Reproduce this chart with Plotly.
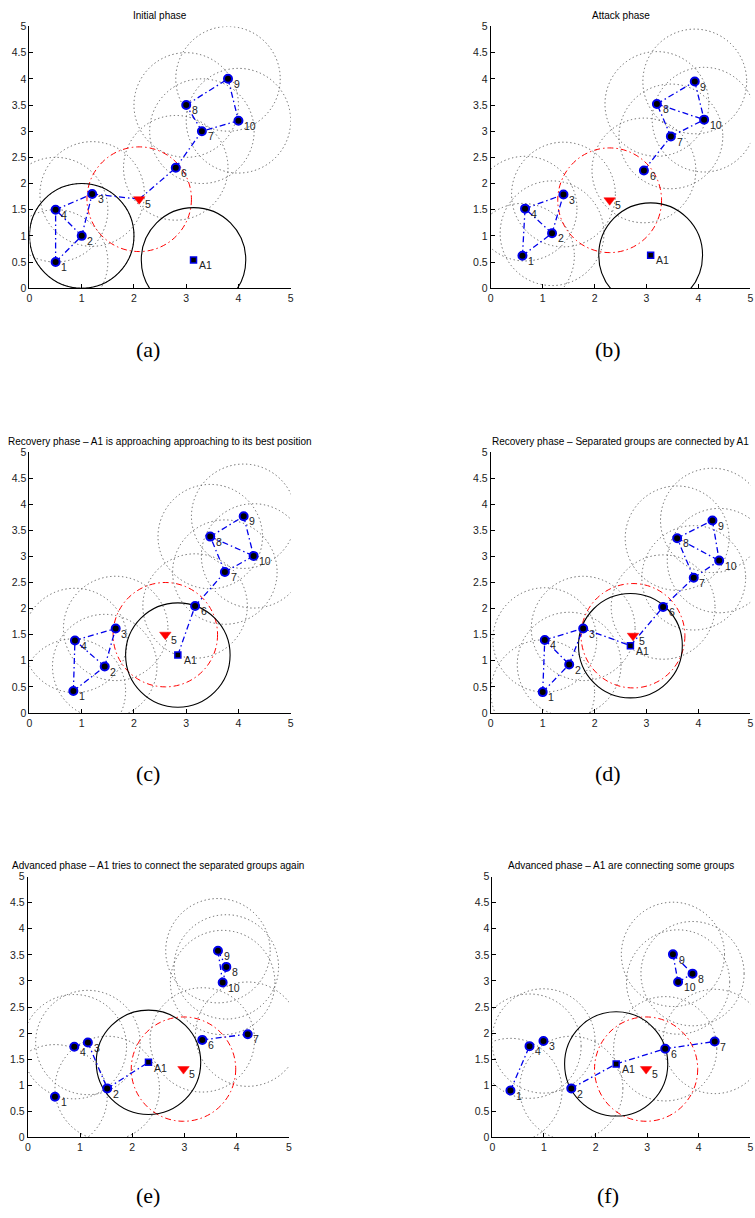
import plotly.graph_objects as go

W, H = 755, 1218

# ---------------- data ----------------
titles = [
    "Initial phase",
    "Attack phase",
    "Recovery phase \u2013 A1 is approaching approaching to its best position",
    "Recovery phase \u2013 Separated groups are connected by A1",
    "Advanced phase \u2013 A1 tries to connect the separated groups again",
    "Advanced phase \u2013 A1 are connecting some groups",
]
panel_labels = ["(a)", "(b)", "(c)", "(d)", "(e)", "(f)"]
node_names = ["1", "2", "3", "4", "5", "6", "7", "8", "9", "10"]

# node coordinates (nodes 1..10) per panel
nodes_x_a = [0.50, 1.00, 1.20, 0.50, 2.10, 2.80, 3.30, 3.00, 3.80, 4.00]
nodes_y_a = [0.50, 1.00, 1.80, 1.50, 1.70, 2.30, 3.00, 3.50, 4.00, 3.20]
nodes_x_b = [0.61, 1.18, 1.40, 0.66, 2.29, 2.95, 3.47, 3.20, 3.93, 4.11]
nodes_y_b = [0.62, 1.05, 1.79, 1.52, 1.68, 2.25, 2.90, 3.52, 3.95, 3.22]
nodes_x_c = [0.84, 1.44, 1.65, 0.87, 2.60, 3.17, 3.74, 3.46, 4.10, 4.29]
nodes_y_c = [0.42, 0.89, 1.62, 1.39, 1.50, 2.05, 2.70, 3.38, 3.77, 3.01]
nodes_x_d = [1.00, 1.51, 1.78, 1.04, 2.74, 3.32, 3.91, 3.59, 4.27, 4.40]
nodes_y_d = [0.40, 0.93, 1.62, 1.40, 1.48, 2.03, 2.59, 3.35, 3.69, 2.92]
nodes_x_e = [0.52, 1.52, 1.15, 0.89, 2.98, 3.34, 4.21, 3.80, 3.64, 3.73]
nodes_y_e = [0.78, 0.94, 1.82, 1.74, 1.31, 1.87, 1.98, 3.27, 3.58, 2.97]
nodes_x_f = [0.35, 1.53, 0.99, 0.72, 2.98, 3.35, 4.31, 3.88, 3.50, 3.60]
nodes_y_f = [0.90, 0.94, 1.85, 1.75, 1.31, 1.70, 1.84, 3.14, 3.51, 2.98]

# attacker-recovery agent A1 position per panel
a1_x = [3.14, 3.08, 2.84, 2.69, 2.31, 2.40]
a1_y = [0.54, 0.63, 1.11, 1.29, 1.44, 1.41]

# links (0 = A1)
edges_a = [(1, 4), (1, 2), (2, 4), (2, 3), (4, 3), (3, 5), (5, 6), (6, 7), (7, 8), (8, 9), (9, 10), (10, 7)]
edges_b = [(1, 4), (1, 2), (2, 4), (2, 3), (4, 3), (6, 7), (7, 8), (8, 9), (9, 10), (8, 10), (7, 10)]
edges_c = [(1, 4), (1, 2), (2, 4), (2, 3), (4, 3), (0, 6), (6, 7), (7, 8), (8, 9), (9, 10), (8, 10), (10, 7)]
edges_d = [(1, 4), (1, 2), (4, 2), (2, 3), (4, 3), (3, 0), (0, 6), (6, 7), (7, 10), (7, 8), (8, 9), (9, 10), (8, 10)]
edges_e = [(4, 3), (3, 2), (2, 0), (6, 7), (9, 8), (9, 10), (8, 10)]
edges_f = [(1, 4), (2, 0), (0, 6), (6, 7), (9, 8), (9, 10), (10, 8)]

# communication range (radius) of every node / agent
comm_range = 1.0
# extra solid circle centre in initial phase (panel a)
extra_circle_x = [1.0, None, None, None, None, None]
extra_circle_y = [1.0, None, None, None, None, None]

# ---------------- layout geometry (pixels) ----------------
# left, right, top, bottom of each axes box
boxes = [
    (26.7, 290.0, 20.7, 285.0),
    (491.7, 753.3, 20.7, 285.0),
    (26.7, 290.0, 450.5, 714.0),
    (491.7, 753.3, 450.5, 714.0),
    (25.0, 288.3, 879.3, 1142.7),
    (493.3, 753.3, 879.3, 1142.7),
]
label_pos = [(146, 347), (610, 347), (146, 775), (610, 775), (146, 1201), (610, 1201)]

panels_x = [nodes_x_a, nodes_x_b, nodes_x_c, nodes_x_d, nodes_x_e, nodes_x_f]
panels_y = [nodes_y_a, nodes_y_b, nodes_y_c, nodes_y_d, nodes_y_e, nodes_y_f]
panels_edges = [edges_a, edges_b, edges_c, edges_d, edges_e, edges_f]


def px(x):
    return x / W


def py(y):
    return 1 - y / H


fig = go.Figure()
shapes = []
annotations = []

BLUE = "rgb(0,0,235)"
DOT = "1.3px,2.7px"
FONT = "Liberation Sans, Arial, sans-serif"

for i in range(6):
    n = i + 1
    xs = "x" if n == 1 else f"x{n}"
    ys = "y" if n == 1 else f"y{n}"
    nx, ny = panels_x[i], panels_y[i]
    ax_, ay_ = a1_x[i], a1_y[i]

    def pos(k):
        if k == 0:
            return ax_, ay_
        return nx[k - 1], ny[k - 1]

    # dotted range circles around every ordinary node
    for k in range(10):
        if k == 4:
            continue
        shapes.append(dict(type="circle", xref=xs, yref=ys, layer="below",
                           x0=nx[k] - comm_range, x1=nx[k] + comm_range,
                           y0=ny[k] - comm_range, y1=ny[k] + comm_range,
                           line=dict(color="rgb(95,95,95)", width=1, dash=DOT)))
    # red dash-dot circle around the attacked node 5
    shapes.append(dict(type="circle", xref=xs, yref=ys, layer="below",
                       x0=nx[4] - comm_range, x1=nx[4] + comm_range,
                       y0=ny[4] - comm_range, y1=ny[4] + comm_range,
                       line=dict(color="red", width=1, dash="6px,3px,1.5px,3px")))
    # black solid circle around A1
    shapes.append(dict(type="circle", xref=xs, yref=ys, layer="below",
                       x0=ax_ - comm_range, x1=ax_ + comm_range,
                       y0=ay_ - comm_range, y1=ay_ + comm_range,
                       line=dict(color="black", width=1.1)))
    if extra_circle_x[i] is not None:
        cx, cy = extra_circle_x[i], extra_circle_y[i]
        shapes.append(dict(type="circle", xref=xs, yref=ys, layer="below",
                           x0=cx - comm_range, x1=cx + comm_range,
                           y0=cy - comm_range, y1=cy + comm_range,
                           line=dict(color="black", width=1.1)))

    # links
    lx, ly = [], []
    for a, b in panels_edges[i]:
        pa, pb = pos(a), pos(b)
        lx += [pa[0], pb[0], None]
        ly += [pa[1], pb[1], None]
    fig.add_trace(go.Scatter(x=lx, y=ly, mode="lines", xaxis=xs, yaxis=ys,
                             line=dict(color=BLUE, width=1.3, dash="6px,3px,1.5px,3px"),
                             hoverinfo="skip", showlegend=False))

    # ordinary nodes
    ox = [nx[k] for k in range(10) if k != 4]
    oy = [ny[k] for k in range(10) if k != 4]
    fig.add_trace(go.Scatter(x=ox, y=oy, mode="markers", xaxis=xs, yaxis=ys,
                             marker=dict(symbol="circle", size=8, color="black",
                                         line=dict(color=BLUE, width=2)),
                             showlegend=False))
    # node 5
    fig.add_trace(go.Scatter(x=[nx[4]], y=[ny[4]], mode="markers", xaxis=xs, yaxis=ys,
                             marker=dict(symbol="triangle-down", size=10, color="red",
                                         line=dict(color="red", width=0.5)),
                             showlegend=False))
    # A1
    fig.add_trace(go.Scatter(x=[ax_], y=[ay_], mode="markers", xaxis=xs, yaxis=ys,
                             marker=dict(symbol="square", size=6, color="black",
                                         line=dict(color=BLUE, width=1.5)),
                             showlegend=False))

    # labels
    for k in range(10):
        annotations.append(dict(x=nx[k] + 0.07, y=ny[k] - 0.1, xref=xs, yref=ys,
                                text=node_names[k], showarrow=False,
                                xanchor="left", yanchor="middle",
                                font=dict(family=FONT, size=10.5, color="#222")))
    annotations.append(dict(x=ax_ + 0.07, y=ay_ - 0.1, xref=xs, yref=ys,
                            text="A1", showarrow=False, xanchor="left", yanchor="middle",
                            font=dict(family=FONT, size=10.5, color="#222")))

    l, r, t, b = boxes[i]
    axis_common = dict(range=[0, 5], showgrid=False, zeroline=False, showline=True,
                       linecolor="black", linewidth=1, ticks="inside", ticklen=4,
                       tickcolor="black", tickwidth=1,
                       tickfont=dict(family=FONT, size=10.5, color="#222"),
                       fixedrange=True)
    xkey = "xaxis" if n == 1 else f"xaxis{n}"
    ykey = "yaxis" if n == 1 else f"yaxis{n}"
    fig.layout[xkey] = dict(axis_common, domain=[px(l), min(px(r), 1)], anchor=ys,
                            tickvals=[0, 1, 2, 3, 4, 5])
    fig.layout[ykey] = dict(axis_common, domain=[py(b), py(t)], anchor=xs,
                            tickvals=[0, 0.5, 1, 1.5, 2, 2.5, 3, 3.5, 4, 4.5, 5],
                            ticktext=["0", "0.5", "1", "1.5", "2", "2.5", "3", "3.5", "4", "4.5", "5"])

    # title
    annotations.append(dict(x=px((l + r) / 2), y=py(t - 11), xref="paper", yref="paper",
                            text=titles[i], showarrow=False, xanchor="center", yanchor="middle",
                            font=dict(family=FONT, size=10, color="black")))
    # panel label
    lxp, lyp = label_pos[i]
    annotations.append(dict(x=px(lxp), y=py(lyp), xref="paper", yref="paper",
                            text=panel_labels[i], showarrow=False, xanchor="center",
                            yanchor="middle",
                            font=dict(family="Liberation Serif, DejaVu Serif, serif",
                                      size=22, color="black")))

fig.update_layout(width=W, height=H, margin=dict(l=0, r=0, t=0, b=0),
                  paper_bgcolor="white", plot_bgcolor="white",
                  shapes=shapes, annotations=annotations, showlegend=False)

fig.write_html("out.html", config={"displayModeBar": False, "staticPlot": True},
               post_script="document.body.style.margin='0px';document.body.style.padding='0px';"
                           "document.documentElement.style.overflow='hidden';")
